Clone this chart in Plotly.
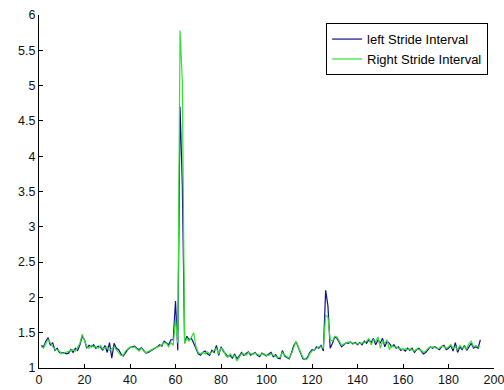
import plotly.graph_objects as go

left_stride = [
    1.32, 1.30, 1.38, 1.43, 1.32, 1.36, 1.25, 1.28, 1.22, 1.21,
    1.22, 1.20, 1.21, 1.26, 1.22, 1.28, 1.25, 1.33, 1.45, 1.40,
    1.28, 1.32, 1.30, 1.33, 1.28, 1.31, 1.30, 1.25, 1.32, 1.22,
    1.36, 1.14, 1.35, 1.28, 1.26, 1.20, 1.17, 1.22, 1.26, 1.29,
    1.30, 1.31, 1.28, 1.26, 1.29, 1.25, 1.21, 1.22, 1.24, 1.26,
    1.27, 1.30, 1.33, 1.31, 1.38, 1.36, 1.33, 1.40, 1.40, 1.95,
    1.25, 4.70, 3.60, 1.35, 1.45, 1.40, 1.42, 1.35, 1.28, 1.20,
    1.18, 1.22, 1.24, 1.20, 1.18, 1.25, 1.22, 1.32, 1.18, 1.30,
    1.24, 1.20, 1.16, 1.18, 1.14, 1.20, 1.13, 1.17, 1.22, 1.18,
    1.21, 1.23, 1.18, 1.20, 1.22, 1.18, 1.16, 1.21, 1.19, 1.17,
    1.20, 1.22, 1.16, 1.19, 1.14, 1.13, 1.25, 1.17, 1.15, 1.13,
    1.22, 1.32, 1.37, 1.28, 1.20, 1.13, 1.12, 1.15, 1.22, 1.26,
    1.25, 1.30, 1.28, 1.32, 1.24, 2.10, 1.88, 1.28, 1.35, 1.44,
    1.42, 1.36, 1.30, 1.33, 1.36, 1.35, 1.37, 1.34, 1.36, 1.33,
    1.36, 1.33, 1.38, 1.35, 1.40, 1.36, 1.42, 1.33, 1.40, 1.35,
    1.42, 1.30, 1.38, 1.35, 1.30, 1.33, 1.28, 1.30, 1.25, 1.27,
    1.24, 1.28, 1.25, 1.28, 1.22, 1.26, 1.28, 1.24, 1.20, 1.22,
    1.26, 1.30, 1.28, 1.30, 1.28, 1.26, 1.30, 1.32, 1.26, 1.28,
    1.32, 1.24, 1.36, 1.22, 1.30, 1.26, 1.32, 1.25, 1.30, 1.35,
    1.28, 1.30, 1.28, 1.40,
]

right_stride = [
    1.30, 1.28, 1.35, 1.40, 1.36, 1.30, 1.27, 1.26, 1.24, 1.20,
    1.21, 1.22, 1.23, 1.24, 1.26, 1.24, 1.30, 1.35, 1.48, 1.38,
    1.30, 1.28, 1.32, 1.30, 1.30, 1.28, 1.32, 1.27, 1.28, 1.30,
    1.25, 1.28, 1.30, 1.26, 1.22, 1.18, 1.18, 1.24, 1.27, 1.30,
    1.29, 1.30, 1.27, 1.24, 1.28, 1.24, 1.22, 1.23, 1.25, 1.27,
    1.28, 1.30, 1.31, 1.33, 1.36, 1.35, 1.30, 1.36, 1.32, 1.70,
    1.35, 5.78, 5.05, 1.35, 1.42, 1.38, 1.45, 1.50, 1.30, 1.22,
    1.20, 1.22, 1.20, 1.23, 1.20, 1.22, 1.25, 1.28, 1.20, 1.28,
    1.26, 1.18, 1.15, 1.20, 1.16, 1.18, 1.10, 1.15, 1.20, 1.20,
    1.18, 1.22, 1.20, 1.19, 1.21, 1.20, 1.18, 1.20, 1.20, 1.18,
    1.18, 1.20, 1.18, 1.17, 1.15, 1.15, 1.22, 1.18, 1.16, 1.14,
    1.20, 1.30, 1.38, 1.30, 1.22, 1.15, 1.12, 1.13, 1.20, 1.24,
    1.26, 1.28, 1.30, 1.30, 1.28, 1.75, 1.72, 1.40, 1.38, 1.45,
    1.44, 1.38, 1.32, 1.34, 1.35, 1.37, 1.36, 1.35, 1.35, 1.34,
    1.35, 1.35, 1.36, 1.38, 1.42, 1.33, 1.40, 1.38, 1.44, 1.28,
    1.38, 1.35, 1.40, 1.26, 1.32, 1.30, 1.30, 1.28, 1.27, 1.26,
    1.27, 1.26, 1.27, 1.25, 1.24, 1.27, 1.26, 1.25, 1.22, 1.24,
    1.28, 1.29, 1.30, 1.29, 1.27, 1.28, 1.31, 1.30, 1.28, 1.30,
    1.33, 1.28, 1.30, 1.26, 1.32, 1.28, 1.30, 1.27, 1.35, 1.38,
    1.30, 1.32, 1.30, 1.30,
]

steps = list(range(1, len(left_stride) + 1))
x_ticks = [0, 20, 40, 60, 80, 100, 120, 140, 160, 180, 200]
y_ticks = [1, 1.5, 2, 2.5, 3, 3.5, 4, 4.5, 5, 5.5, 6]
y_tick_labels = ["1", "1.5", "2", "2.5", "3", "3.5", "4", "4.5", "5", "5.5", "6"]

fig = go.Figure()
fig.add_trace(go.Scatter(x=steps, y=left_stride, mode="lines",
                         name="left Stride Interval",
                         line=dict(color="#10108c", width=1.2)))
fig.add_trace(go.Scatter(x=steps, y=right_stride, mode="lines",
                         name="Right Stride Interval",
                         line=dict(color="#33e033", width=1.2)))

axis_common = dict(showgrid=False, zeroline=False, showline=True, linecolor="#000000",
                   linewidth=1, ticks="inside", ticklen=4, tickcolor="#000000",
                   tickfont=dict(family="Liberation Sans, Arial", size=12.5, color="#111111"),
                   mirror=False, automargin=False, ticklabeloverflow="allow")

fig.update_layout(
    width=504, height=390,
    margin=dict(l=39, r=10, t=15, b=22),
    paper_bgcolor="#ffffff", plot_bgcolor="#ffffff",
    xaxis=dict(range=[0, 200], tickvals=x_ticks, **axis_common),
    yaxis=dict(range=[1, 6], tickvals=y_ticks, ticktext=y_tick_labels, **axis_common),
    legend=dict(x=0.987, y=0.977, xanchor="right", yanchor="top",
                bordercolor="#000000", borderwidth=1, bgcolor="#ffffff",
                font=dict(family="Liberation Sans, Arial", size=13, color="#000000"),
                tracegroupgap=0, itemwidth=30),
    showlegend=True,
)

fig.write_html("out.html", config={"displayModeBar": False},
               post_script="document.body.style.margin='0';document.body.style.overflow='hidden';")
